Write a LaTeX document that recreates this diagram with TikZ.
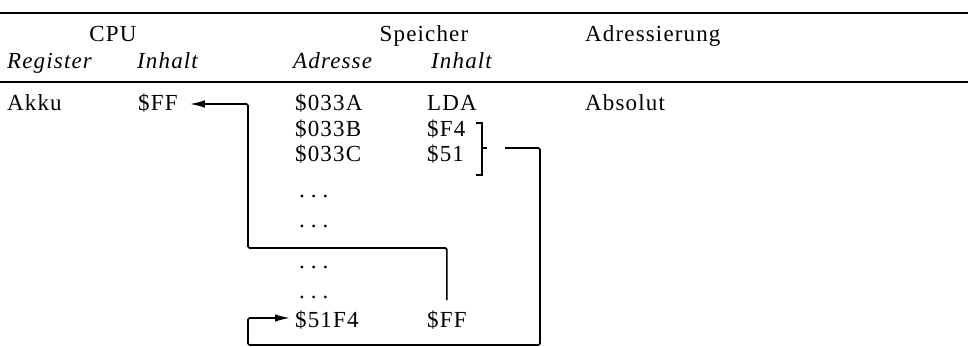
\documentclass[tikz,border=0pt]{standalone}
\usepackage{fontspec}
\setmainfont[LetterSpace=5]{Liberation Serif}
\usetikzlibrary{arrows.meta}
\begin{document}
\begin{tikzpicture}[x=1pt, y=-1pt,
		txt/.style={anchor=base west, inner sep=0pt},
		conn/.style={line width=1.7pt, rounded corners=1.5pt},
		pfeil/.style={conn, -{Latex[length=15pt, width=7.5pt]}},
		font=\fontsize{23}{27}\selectfont]
	\useasboundingbox (0,0) rectangle (968,347);
	\draw[line width=1.8pt] (0,13) -- (968,13);
	\draw[line width=1.6pt] (0,82) -- (968,82);
	
	% Kopfzeilen
	\node[txt, anchor=base] (cpu) at (113,42) {CPU};
	\node[txt, anchor=base] (speicher) at (424,42) {Speicher};
	\node[txt] (adr) at (585,42) {Adressierung};
	\node[txt] (reg) at (7,69) {\itshape Register};
	\node[txt] (inhcpu) at (137,69) {\itshape Inhalt};
	\node[txt] (adresse) at (293,69) {\itshape Adresse};
	\node[txt] (inhmem) at (431,69) {\itshape Inhalt};
	
	% Tabelle
	\node[txt] (akku) at (7,111) {Akku};
	\node[txt] (ffreg) at (138,111) {\$FF};
	\node[txt] (a33a) at (295,111) {\$033A};
	\node[txt] (lda) at (427,111) {LDA};
	\node[txt] (absolut) at (585,111) {Absolut};
	\node[txt] (a33b) at (295,137) {\$033B};
	\node[txt] (f4) at (427,137) {\$F4};
	\node[txt] (a33c) at (295,162) {\$033C};
	\node[txt] (h51) at (427,162) {\$51};
	\foreach \y in {198,228,268,298}
		\node[txt] (d\y) at (299,\y) {.\hspace{6pt}.\hspace{6pt}.};
	\node[txt] (a51f4) at (295,327) {\$51F4};
	\node[txt] (ffmem) at (427,327) {\$FF};
	
	% Klammer um $F4 / $51
	\draw[line width=1.5pt] (476,123) -- (482,123) -- (482,175) -- (476,175);
	\draw[line width=1.5pt] (482,148) -- (487,148);
	
	% Verbindungen
	\coordinate (k1) at (248,248);
	\coordinate (brk) at (505,148);
	\coordinate (k2) at (540,345);
	\coordinate (k3) at (248,345);
	\draw[pfeil] (ffmem.north |- 0,300) |- (k1) |- ([xshift=12pt]ffreg.east |- 0,104);
	\draw[pfeil] (brk) -| (k2) -- (k3) |- ([xshift=-5pt]a51f4.west |- 0,318);
\end{tikzpicture}
\end{document}
